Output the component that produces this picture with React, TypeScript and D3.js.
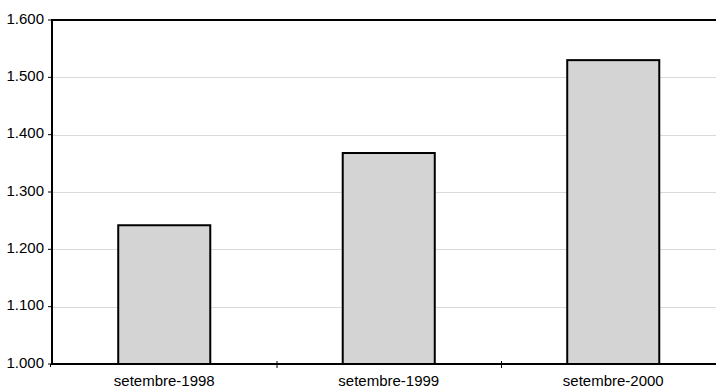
import React from "react";
import * as d3 from "d3";

const categories = ["setembre-1998", "setembre-1999", "setembre-2000"];
const values = [1.242, 1.368, 1.53];
const yTicks = [1.0, 1.1, 1.2, 1.3, 1.4, 1.5, 1.6];

const W = 716;
const H = 389;
const margin = { left: 52, top: 20, bottom: 25 };
const plotRight = 725.5;

const fmt = (v: number) => v.toFixed(3).replace(".", ".");

export default function App() {
  const x = d3
    .scaleBand<string>()
    .domain(categories)
    .range([margin.left, plotRight])
    .paddingInner(0.59)
    .paddingOuter(0.295);
  const xb = d3.scaleBand<string>().domain(categories).range([margin.left, plotRight]).padding(0);
  const y = d3.scaleLinear().domain([1.0, 1.6]).range([H - margin.bottom, margin.top]);
  const font = "'Liberation Sans', Arial, sans-serif";
  const y0 = y(1.0);

  return (
    <svg
      width={W}
      height={H}
      style={{ position: "absolute", left: 0, top: 0, display: "block", background: "#fff" }}
    >
      {yTicks.slice(1, -1).map((t) => (
        <line key={t} x1={margin.left} x2={W} y1={Math.round(y(t)) + 0.5} y2={Math.round(y(t)) + 0.5} stroke="#dadada" strokeWidth={1} />
      ))}
      {categories.map((c, i) => (
        <rect
          key={c}
          x={x(c)!}
          y={y(values[i])}
          width={x.bandwidth()}
          height={y0 - y(values[i])}
          fill="#d4d4d4"
          stroke="#000"
          strokeWidth={2}
        />
      ))}
      {/* top border */}
      <line x1={margin.left - 1} x2={W} y1={y(1.6)} y2={y(1.6)} stroke="#000" strokeWidth={2} />
      {/* y axis */}
      <line x1={margin.left} x2={margin.left} y1={y(1.6) - 1} y2={y0 + 1} stroke="#000" strokeWidth={2} />
      {/* x axis */}
      <line x1={margin.left} x2={W} y1={y0} y2={y0} stroke="#000" strokeWidth={2} />
      {yTicks.map((t) => (
        <g key={t}>
          <line x1={margin.left - 4} x2={margin.left} y1={y(t)} y2={y(t)} stroke="#000" strokeWidth={1} />
          <text x={44} y={y(t) + 3.5} textAnchor="end" fontFamily={font} fontSize={15} fill="#000">
            {fmt(t)}
          </text>
        </g>
      ))}
      {categories.slice(1).map((c) => (
        <line key={c} x1={xb(c)! + 0.5} x2={xb(c)! + 0.5} y1={y0 - 3} y2={y0 + 4} stroke="#000" strokeWidth={1} />
      ))}
      <line x1={margin.left - 1.5} x2={margin.left - 1.5} y1={y0} y2={y0 + 3} stroke="#000" strokeWidth={1} />
      {categories.map((c) => (
        <text
          key={c}
          x={xb(c)! + xb.bandwidth() / 2}
          y={386}
          textAnchor="middle"
          fontFamily={font}
          fontSize={15}
          fill="#000"
        >
          {c}
        </text>
      ))}
    </svg>
  );
}
